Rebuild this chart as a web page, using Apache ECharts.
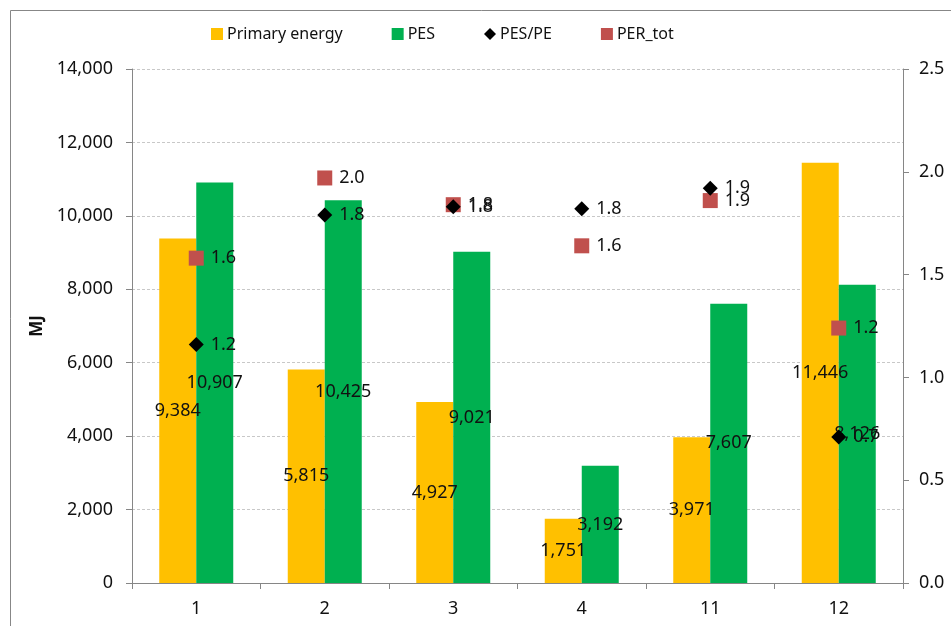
<!DOCTYPE html>
<html>
<head>
<meta charset="utf-8">
<script src="https://cdn.jsdelivr.net/npm/echarts@6/dist/echarts.min.js"></script>
<style>
html,body{margin:0;padding:0;background:#fff;}
#chart{width:951px;height:626px;}
</style>
</head>
<body>
<div id="chart"></div>
<script>
const categories = ['1', '2', '3', '4', '11', '12'];
const primaryEnergy = [9384, 5815, 4927, 1751, 3971, 11446];
const pes = [10907, 10425, 9021, 3192, 7607, 8126];
const pesPerPe = [1.16, 1.79, 1.83, 1.82, 1.92, 0.71];
const perTot = [1.58, 1.97, 1.84, 1.64, 1.86, 1.24];
const leftTicks = [0, 14000, 2000];
const rightTicks = [0, 2.5, 0.5];

const FONT = 'Noto Sans';
const TXT = '#111';
const AX = '#868686';
const fmtThousands = v => Math.round(v).toLocaleString('en-US');

const chart = echarts.init(document.getElementById('chart'));
chart.setOption({
  animation: false,
  textStyle: { fontFamily: FONT },
  graphic: [{
    type: 'rect', silent: true,
    shape: { x: 10.5, y: 10.5, width: 960, height: 640 },
    style: { fill: 'none', stroke: '#878787', lineWidth: 1 }
  }],
  legend: {
    top: 21, left: 206,
    itemGap: 49, itemWidth: 12, itemHeight: 12,
    textStyle: { fontFamily: FONT, fontSize: 16, color: TXT, padding: [0, 0, 0, -1] },
    data: [
      { name: 'Primary energy', icon: 'rect' },
      { name: 'PES', icon: 'rect' },
      { name: 'PES/PE', icon: 'diamond' },
      { name: 'PER_tot', icon: 'rect' }
    ]
  },
  grid: { left: 132, right: 48, top: 69, bottom: 43 },
  xAxis: {
    type: 'category', data: categories, boundaryGap: true,
    axisLine: { lineStyle: { color: AX, width: 1 } },
    axisTick: { show: true, length: 6, lineStyle: { color: AX } },
    axisLabel: { fontFamily: FONT, fontSize: 18, color: TXT, margin: 17 }
  },
  yAxis: [{
    type: 'value', min: leftTicks[0], max: leftTicks[1], interval: leftTicks[2],
    name: 'MJ', nameLocation: 'middle', nameGap: 82, nameRotate: 90,
    nameTextStyle: { fontFamily: FONT, fontSize: 17, fontWeight: 'bold', color: TXT },
    axisLine: { show: true, lineStyle: { color: AX } },
    axisTick: { show: true, length: 6, lineStyle: { color: AX } },
    axisLabel: { fontFamily: FONT, fontSize: 18, color: TXT, margin: 19, formatter: fmtThousands },
    splitLine: { show: true, lineStyle: { color: '#c8c8c8', type: [3, 2], width: 1 } }
  }, {
    type: 'value', min: rightTicks[0], max: rightTicks[1], interval: rightTicks[2],
    position: 'right',
    axisLine: { show: true, lineStyle: { color: AX } },
    axisTick: { show: true, length: 6, lineStyle: { color: AX } },
    axisLabel: { fontFamily: FONT, fontSize: 18, color: TXT, margin: 16, formatter: v => v.toFixed(1) },
    splitLine: { show: false }
  }],
  series: [{
    name: 'Primary energy', type: 'bar', data: primaryEnergy,
    barWidth: 37, barGap: '0%',
    itemStyle: { color: '#ffc000' },
    label: { show: true, position: 'inside', fontFamily: FONT, fontSize: 18, color: TXT,
      formatter: p => fmtThousands(p.value) }
  }, {
    name: 'PES', type: 'bar', data: pes,
    barWidth: 37, barGap: '0%',
    itemStyle: { color: '#00b050' },
    label: { show: true, position: 'inside', fontFamily: FONT, fontSize: 18, color: TXT,
      formatter: p => fmtThousands(p.value) }
  }, {
    name: 'PES/PE', type: 'scatter', yAxisIndex: 1, data: pesPerPe,
    symbol: 'diamond', symbolSize: 15,
    itemStyle: { color: '#000000', opacity: 1 },
    label: { show: true, position: 'right', distance: 7, fontFamily: FONT, fontSize: 18, color: TXT, opacity: 1,
      formatter: p => p.value.toFixed(1) },
    z: 5
  }, {
    name: 'PER_tot', type: 'scatter', yAxisIndex: 1, data: perTot,
    symbol: 'rect', symbolSize: 15,
    itemStyle: { color: '#c0504d', opacity: 1 },
    label: { show: true, position: 'right', distance: 7, fontFamily: FONT, fontSize: 18, color: TXT, opacity: 1,
      formatter: p => p.value.toFixed(1) },
    z: 4
  }]
});
</script>
</body>
</html>
